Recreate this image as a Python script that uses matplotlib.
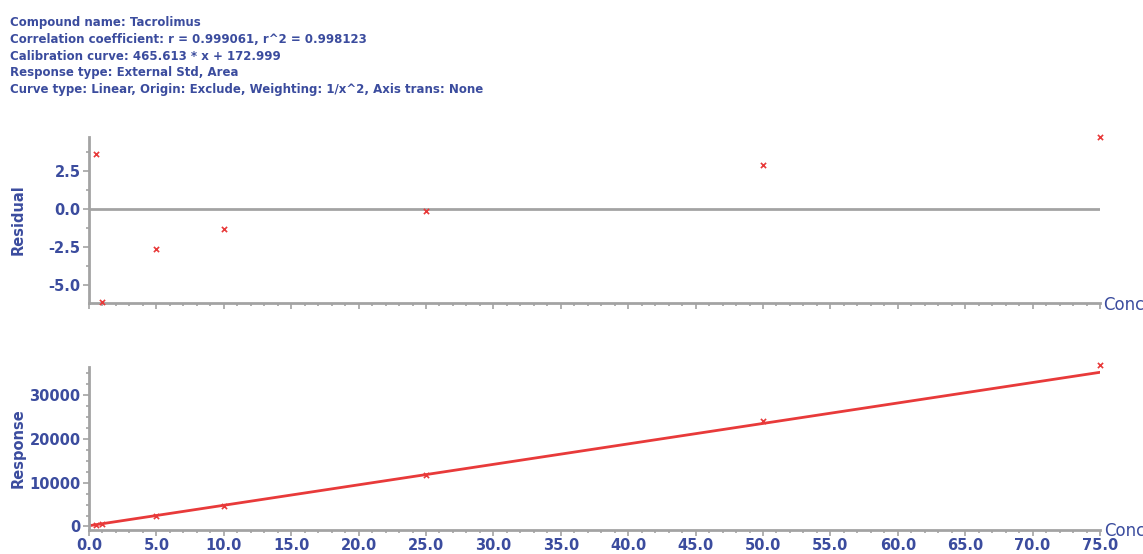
import matplotlib
matplotlib.use("Agg")
import matplotlib.pyplot as plt
from matplotlib.ticker import MultipleLocator, FormatStrFormatter

# Calibration data for Tacrolimus
conc = [0.5, 1.0, 5.0, 10.0, 25.0, 50.0, 75.0]
response = [420, 600, 2436, 4766, 11795, 24120, 36740]
residual = [3.6, -6.1, -2.6, -1.3, -0.15, 2.85, 4.7]
slope = 465.613
intercept = 172.999

header = [
    "Compound name: Tacrolimus",
    "Correlation coefficient: r = 0.999061, r^2 = 0.998123",
    "Calibration curve: 465.613 * x + 172.999",
    "Response type: External Std, Area",
    "Curve type: Linear, Origin: Exclude, Weighting: 1/x^2, Axis trans: None",
]

BLUE = "#3b4c9e"
RED = "#e83a3a"
GRAY = "#a3a3a3"
FONT = ["DejaVu Sans"]

fig = plt.figure(figsize=(11.43, 5.54), dpi=100)

for i, line in enumerate(header):
    fig.text(10 / 1143, 1 - (22.5 + i * 16.8) / 554, line, color=BLUE,
             fontsize=8.5, fontweight="bold", family=FONT, va="center", ha="left")

ax_res = fig.add_axes([89 / 1143, 1 - 303 / 554, 1011 / 1143, 166 / 554])
ax_cal = fig.add_axes([89 / 1143, 1 - 530 / 554, 1011 / 1143, 163 / 554])


def style(ax):
    for side in ("top", "right"):
        ax.spines[side].set_visible(False)
    for side in ("left", "bottom"):
        ax.spines[side].set_color(GRAY)
        ax.spines[side].set_linewidth(2)
    ax.tick_params(which="both", colors=GRAY, direction="out", width=1.2)
    ax.tick_params(which="major", length=4, pad=2, labelcolor=BLUE, labelsize=10.5)
    ax.tick_params(which="minor", length=2.5)
    ax.set_xlim(0, 75)
    ax.xaxis.set_major_locator(MultipleLocator(5))
    ax.xaxis.set_minor_locator(MultipleLocator(1))
    for lab in ax.get_xticklabels() + ax.get_yticklabels():
        lab.set_fontweight("bold")
        lab.set_family(FONT)


# Residual plot
ax_res.axhline(0, color=GRAY, lw=2, xmin=0, xmax=1)
ax_res.scatter(conc, residual, marker="x", color=RED, s=14, lw=1.2,
               clip_on=False, zorder=3)
ax_res.set_ylim(-6.15, 4.7)
ax_res.yaxis.set_major_locator(MultipleLocator(2.5))
ax_res.yaxis.set_minor_locator(MultipleLocator(1.25))
ax_res.yaxis.set_major_formatter(FormatStrFormatter("%.1f"))
style(ax_res)
ax_res.tick_params(axis="x", which="both", labelbottom=False)
ax_res.set_ylabel("Residual", color=BLUE, fontsize=10.5, fontweight="bold",
                  family=FONT)
ax_res.yaxis.set_label_coords(-0.063, 0.5)
fig.text(1103 / 1143, 1 - 305 / 554, "Conc", color=BLUE, fontsize=12,
         family=FONT, va="center", ha="left")

# Calibration curve
ax_cal.plot([0, 75], [intercept, slope * 75 + intercept], color=RED, lw=2,
            zorder=2)
ax_cal.scatter(conc, response, marker="x", color=RED, s=14, lw=1.2,
               clip_on=False, zorder=3)
ax_cal.set_ylim(-800, 36300)
ax_cal.yaxis.set_major_locator(MultipleLocator(10000))
ax_cal.yaxis.set_minor_locator(MultipleLocator(2500))
ax_cal.xaxis.set_major_formatter(FormatStrFormatter("%.1f"))
style(ax_cal)
ax_cal.set_ylabel("Response", color=BLUE, fontsize=10.5, fontweight="bold",
                  family=FONT)
ax_cal.yaxis.set_label_coords(-0.063, 0.5)
fig.text(1104 / 1143, 1 - 531 / 554, "Conc", color=BLUE, fontsize=12,
         family=FONT, va="center", ha="left")

fig.savefig("out.png", dpi=100)
